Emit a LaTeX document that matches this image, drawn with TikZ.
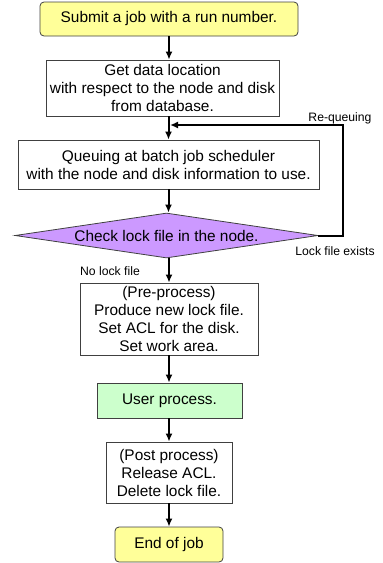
\documentclass[tikz,border=0pt]{standalone}
\usepackage{fontspec}
\setmainfont{Liberation Sans}
\usetikzlibrary{shapes.geometric,arrows.meta}
\definecolor{jobyellow}{HTML}{FFFF99}
\definecolor{checkpurple}{HTML}{CC99FF}
\definecolor{usergreen}{HTML}{CCFFCC}

\begin{document}
\begin{tikzpicture}[x=1pt,y=-1pt,
				every node/.style={font=\fontsize{15.4}{18}\selectfont},
				terminal/.style={rectangle, rounded corners=4pt, draw=black!75, line width=0.8pt, fill=jobyellow, inner sep=0pt},
				process/.style={rectangle, draw=black!75, line width=0.8pt, fill=white, align=center, inner sep=0pt},
				userbox/.style={rectangle, draw=black!75, line width=0.8pt, fill=usergreen, inner sep=0pt},
				decision/.style={diamond, aspect=6.7, draw=black!75, line width=0.8pt, fill=checkpurple, inner sep=0pt},
				note/.style={font=\fontsize{12.2}{14}\selectfont},
				flow/.style={-{Latex[length=8pt,width=7pt]}, line width=2pt}]
	\useasboundingbox (0,0) rectangle (383,563);
	\node[terminal, minimum width=258, minimum height=34] (submit) at (169,19) {Submit a job with a run number.};
	\node[process, minimum width=233, minimum height=56] (getloc) at (162.5,88) {Get data location\\with respect to the node and disk\\from database.};
	\node[process, minimum width=301, minimum height=49] (queue) at (168.5,164.5) {Queuing at batch job scheduler\\with the node and disk information to use.};
	\node[decision, minimum width=303, minimum height=45] (check) at (166.5,235.5) {Check lock file in the node.};
	\node[process, minimum width=178, minimum height=72] (pre) at (169,319) {(Pre-process)\\Produce new lock file.\\Set ACL for the disk.\\Set work area.};
	\node[userbox, minimum width=145, minimum height=35] (user) at (169.5,400.5) {User process.};
	\node[process, minimum width=126, minimum height=61] (post) at (169,472.5) {(Post process)\\Release ACL.\\Delete lock file.};
	\node[terminal, minimum width=108, minimum height=35] (finish) at (169,544.5) {End of job};
	\node[note] (requeue) at (340,118) {Re-queuing};
	\node[note] (exists) at (335,251) {Lock file exists};
	\node[note] (nolock) at (110,271) {No lock file};
	\coordinate (loop) at (343,125);
	\draw[flow] (submit) -- (getloc.north -| submit);
	\draw[flow] (getloc.south -| queue) -- (queue);
	\draw[flow] (queue.south) -- (queue.south |- check.north);
	\draw[flow] (check.south -| pre) -- (pre);
	\draw[flow] (pre) -- (pre |- user.north);
	\draw[flow] (user.south -| post) -- (post);
	\draw[flow] (post) -- (finish);
	\draw[flow] (check.east) -| (loop) -- ([xshift=1.5pt]loop -| queue);
\end{tikzpicture}
\end{document}
